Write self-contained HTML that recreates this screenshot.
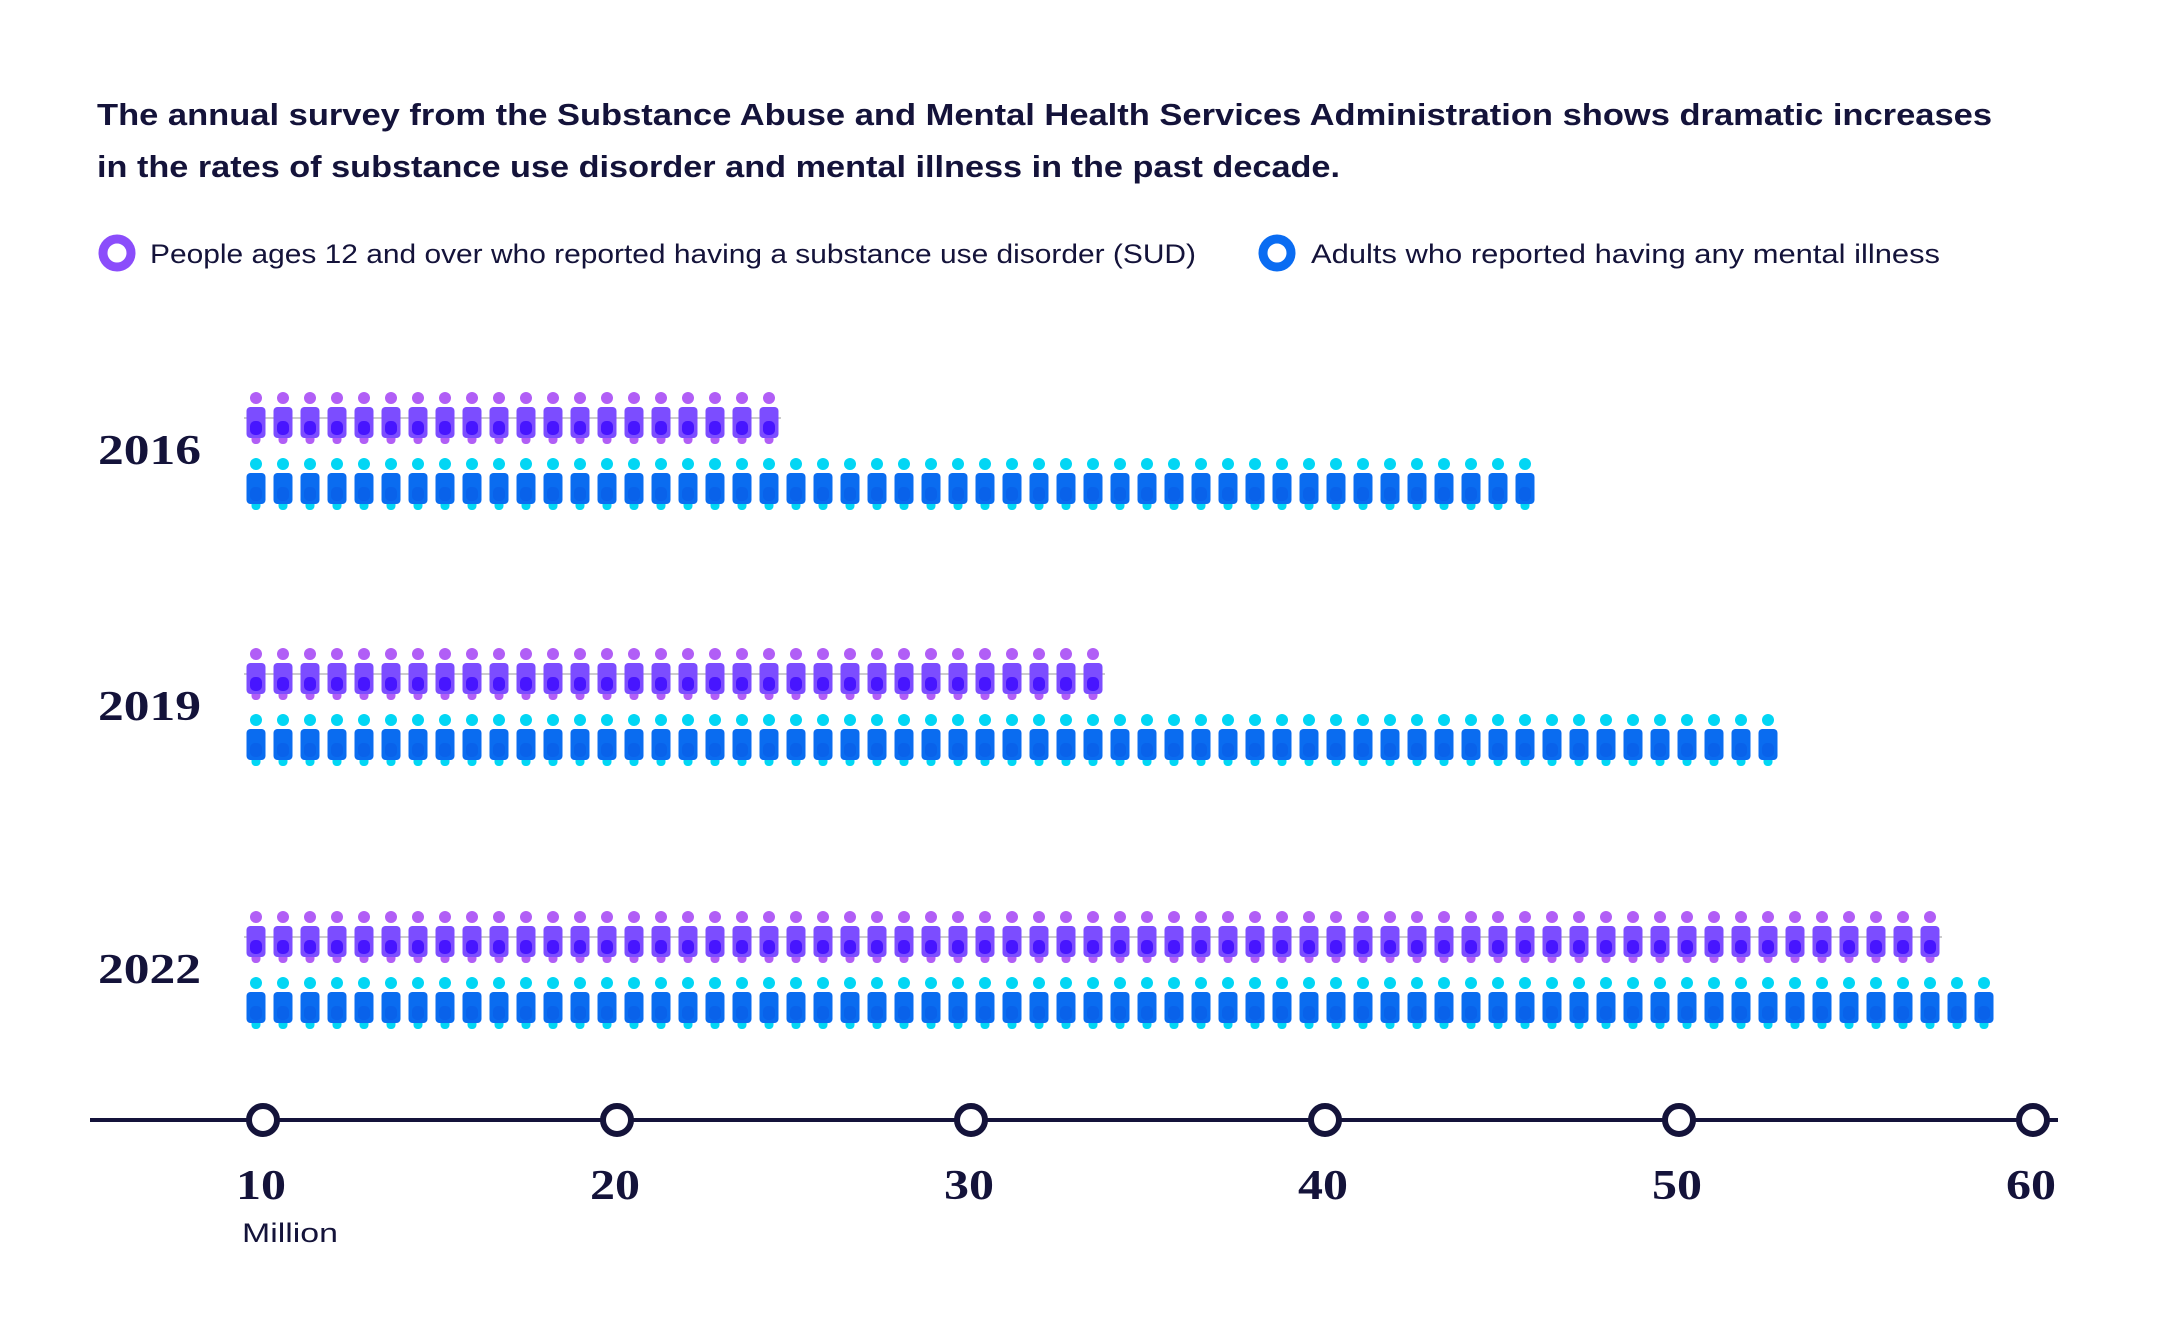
<!DOCTYPE html>
<html><head><meta charset="utf-8"><style>
html,body{margin:0;padding:0;background:#fff;}
svg{display:block;}
</style></head><body>
<svg id="chart" width="2160" height="1322" viewBox="0 0 2160 1322" xmlns="http://www.w3.org/2000/svg">
  <g font-family="Liberation Sans, sans-serif" font-weight="bold" font-size="31" fill="#14133a">
    <text x="97" y="125" textLength="1895" lengthAdjust="spacingAndGlyphs">The annual survey from the Substance Abuse and Mental Health Services Administration shows dramatic increases</text>
    <text x="97" y="177" textLength="1243" lengthAdjust="spacingAndGlyphs">in the rates of substance use disorder and mental illness in the past decade.</text>
  </g>
  <g font-family="Liberation Sans, sans-serif" font-size="27" fill="#14133a">
    <g>
      <circle cx="117" cy="253" r="14" fill="none" stroke="#8b4dfb" stroke-width="9"/>
      <text x="150" y="263" textLength="1046" lengthAdjust="spacingAndGlyphs">People ages 12 and over who reported having a substance use disorder (SUD)</text>
    </g>
    <g>
      <circle cx="1277" cy="253" r="14" fill="none" stroke="#0a6cf2" stroke-width="9"/>
      <text x="1311" y="263" textLength="629" lengthAdjust="spacingAndGlyphs">Adults who reported having any mental illness</text>
    </g>
  </g>
  <g id="rows"></g>
  <g id="axis"></g>
</svg>
<script>
const years = ["2016", "2019", "2022"];
const sudIcons = [20, 32, 63];
const amiIcons = [48, 57, 65];
const axisTicks = [10, 20, 30, 40, 50, 60];

const NS = "http://www.w3.org/2000/svg";
const rows = document.getElementById('rows');
const axis = document.getElementById('axis');
const x0 = 256, step = 27.0;
const rowY = [418, 674, 937];
const xScale = v => 263 + (v - 10) * 35.4;

function mk(tag, attrs, parent){
  const e = document.createElementNS(NS, tag);
  for (const k in attrs) e.setAttribute(k, attrs[k]);
  parent.appendChild(e);
  return e;
}
function person(parent, cx, cy, c){
  mk('circle', {cx: cx, cy: cy - 20, r: 6, fill: c.head}, parent);
  mk('rect', {x: cx - 4.5, y: cy + 10, width: 9, height: 16, rx: 4, fill: c.head}, parent);
  mk('rect', {x: cx - 9.5, y: cy - 11, width: 19, height: 31, rx: 4, fill: c.body}, parent);
  mk('rect', {x: cx - 6, y: cy + 3, width: 12, height: 14, rx: 5, fill: c.low}, parent);
}
const pc = {head: '#b15ef6', body: '#7c4dff', low: '#4715ff'};
const bc = {head: '#02d6f4', body: '#0a6cf0', low: '#0962ea'};

years.forEach((yr, i) => {
  const g = mk('g', {}, rows);
  
  
  const t = mk('text', {x: 98, y: rowY[i] + 46, 'font-family': 'Liberation Serif, serif', 'font-weight': 'bold', 'font-size': 42, fill: '#14133a', textLength: 103, lengthAdjust: 'spacingAndGlyphs'}, g);
  t.textContent = yr;
  
  
  const sg = mk('g', {}, g);
  
  
  const n1 = sudIcons[i];
  mk('line', {x1: x0 - 12, x2: x0 + (n1 - 1) * step + 12, y1: rowY[i], y2: rowY[i], stroke: '#ccc', 'stroke-width': 2}, sg);
  for (let k = 0; k < n1; k++) person(sg, x0 + k * step, rowY[i], pc);
  const ag = mk('g', {}, g);
  
  
  const n2 = amiIcons[i];
  for (let k = 0; k < n2; k++) person(ag, x0 + k * step, rowY[i] + 66, bc);
});

const AY = 1120;
mk('line', {x1: 90, x2: 2058, y1: AY, y2: AY, stroke: '#14133a', 'stroke-width': 4}, axis);
axisTicks.forEach(v => {
  const x = xScale(v);
  const c = mk('circle', {cx: x, cy: AY, r: 14, fill: '#fff', stroke: '#14133a', 'stroke-width': 6}, axis);
  
  
  const t = mk('text', {x: x - 27, y: 1199, 'font-family': 'Liberation Serif, serif', 'font-weight': 'bold', 'font-size': 42, fill: '#14133a', textLength: 50, lengthAdjust: 'spacingAndGlyphs'}, axis);
  t.textContent = v;
  
  
});
const m = mk('text', {x: 242, y: 1242, 'font-family': 'Liberation Sans, sans-serif', 'font-size': 27, fill: '#14133a', textLength: 96, lengthAdjust: 'spacingAndGlyphs'}, axis);
m.textContent = 'Million';


</script>
</body></html>
